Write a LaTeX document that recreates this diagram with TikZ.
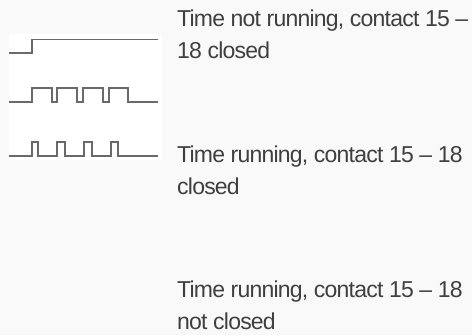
\documentclass[tikz,border=0pt]{standalone}
\usepackage{fontspec}
\setmainfont[LetterSpace=-3.4]{Liberation Sans}
\definecolor{bgc}{HTML}{F9F9F9}
\definecolor{txtc}{HTML}{3F3F3F}
\definecolor{wavec}{HTML}{6A6A6A}
\tikzset{
  lbl/.style={anchor=base west,inner sep=0pt,text=txtc,font=\fontsize{23bp}{26bp}\selectfont},
  wave/.style={draw=wavec,line width=1.9bp}
}
\begin{document}
\begin{tikzpicture}[x=1bp,y=-1bp]
\useasboundingbox (0,0) rectangle (472,335);
\fill[bgc] (0,0) rectangle (472,335);
\fill[white] (9,34) rectangle (162,160);
\coordinate (a0) at (9,52.7);
\draw[wave] (a0) -- (32,52.7) -- (32,39.5) -- (158,39.5);
\coordinate (b0) at (9,102.3);
\draw[wave] (b0) -- (32,102.3) -- (32,88.3) -- (51.7,88.3) -- (51.7,102.3) -- (57.3,102.3) -- (57.3,88.3) -- (77,88.3) -- (77,102.3) -- (83,102.3) -- (83,88.3) -- (102.7,88.3) -- (102.7,102.3) -- (109,102.3) -- (109,88.3) -- (128,88.3) -- (128,102.3) -- (158,102.3);
\coordinate (c0) at (9,155.7);
\draw[wave] (c0) -- (32,155.7) -- (32,141.7) -- (38.3,141.7) -- (38.3,155.7) -- (57.3,155.7) -- (57.3,141.7) -- (65,141.7) -- (65,155.7) -- (84,155.7) -- (84,141.7) -- (91.7,141.7) -- (91.7,155.7) -- (111,155.7) -- (111,141.7) -- (118,141.7) -- (118,155.7) -- (158,155.7);
\node[lbl] (l1a) at (177,26) {Time not running, contact 15 –};
\node[lbl] (l1b) at (177,58) {18 closed};
\node[lbl] (l2a) at (177,162.3) {Time running, contact 15 – 18};
\node[lbl] (l2b) at (177,194) {closed};
\node[lbl] (l3a) at (177,297.7) {Time running, contact 15 – 18};
\node[lbl] (l3b) at (177,329.3) {not closed};
\end{tikzpicture}
\end{document}
